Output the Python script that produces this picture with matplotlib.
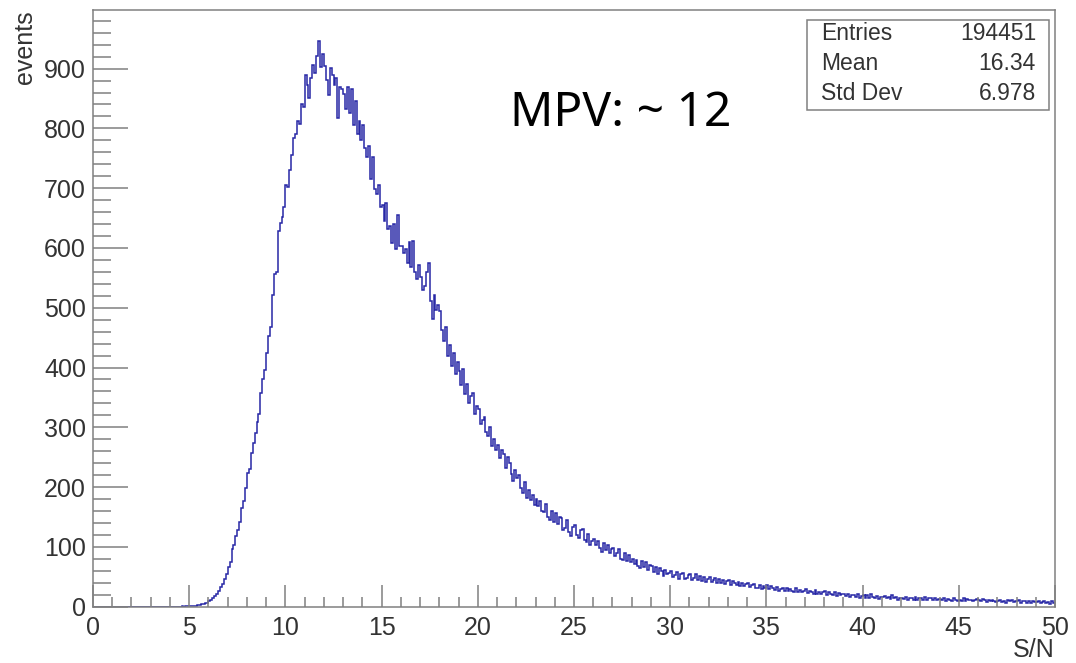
import numpy as np
import matplotlib
matplotlib.use("Agg")
import matplotlib.pyplot as plt
from matplotlib.ticker import MultipleLocator

# histogram of S/N, 0.1 wide bins from 0 to 50 (one row per unit)
counts = [
    0, 0, 0, 0, 0, 0, 0, 0, 0, 0,
    0, 0, 0, 0, 0, 0, 0, 0, 0, 0,
    0, 0, 0, 0, 0, 0, 0, 0, 0, 0,
    0, 0, 0, 0, 0, 0, 0, 0, 0, 0,
    0, 0, 0, 0, 0, 0, 1, 0, 1, 1,
    1, 1, 2, 1, 3, 3, 4, 5, 6, 7,
    9, 11, 14, 18, 21, 27, 33, 38, 46, 55,
    66, 74, 97, 104, 118, 128, 141, 165, 176, 199,
    224, 231, 257, 274, 290, 309, 322, 358, 381, 396,
    424, 452, 468, 521, 557, 560, 628, 641, 652, 668,
    705, 702, 731, 756, 784, 791, 812, 807, 840, 836,
    889, 872, 851, 884, 906, 893, 921, 946, 903, 925,
    905, 881, 855, 901, 889, 872, 884, 818, 870, 866,
    858, 832, 870, 825, 866, 805, 845, 790, 812, 780,
    806, 768, 752, 770, 715, 752, 698, 690, 705, 668,
    672, 645, 676, 632, 636, 608, 640, 598, 655, 604,
    604, 592, 598, 575, 610, 568, 612, 560, 548, 572,
    552, 530, 536, 560, 575, 512, 482, 522, 496, 505,
    494, 462, 445, 468, 420, 438, 402, 425, 390, 410,
    395, 370, 398, 355, 372, 340, 352, 358, 322, 335,
    330, 305, 312, 318, 292, 285, 300, 268, 280, 262,
    270, 248, 262, 255, 232, 250, 240, 222, 210, 228,
    215, 220, 198, 190, 208, 182, 195, 178, 186, 170,
    180, 168, 176, 160, 158, 172, 150, 145, 160, 142,
    156, 138, 150, 148, 128, 132, 145, 125, 118, 134,
    136, 120, 115, 128, 130, 112, 108, 122, 104, 110,
    114, 104, 110, 98, 92, 106, 94, 104, 90, 96,
    98, 84, 90, 96, 80, 78, 90, 76, 86, 74,
    80, 72, 78, 68, 64, 76, 66, 74, 62, 70,
    68, 58, 66, 55, 64, 60, 52, 62, 54, 57,
    60, 50, 53, 58, 47, 54, 56, 46, 48, 53,
    55, 45, 48, 54, 44, 52, 43, 50, 42, 47,
    50, 41, 44, 48, 40, 47, 39, 45, 38, 43,
    45, 37, 43, 39, 36, 42, 35, 40, 34, 38,
    40, 33, 36, 38, 32, 31, 36, 30, 35, 31,
    36, 29, 34, 31, 28, 33, 27, 30, 31, 26,
    32, 26, 30, 27, 25, 31, 24, 28, 24, 27,
    29, 23, 27, 25, 22, 28, 21, 24, 22, 25,
    26, 20, 24, 22, 19, 24, 18, 23, 19, 21,
    22, 18, 21, 16, 20, 19, 17, 21, 15, 18,
    20, 15, 19, 14, 22, 16, 14, 18, 13, 17,
    16, 18, 14, 17, 13, 19, 15, 16, 12, 15,
    15, 13, 17, 12, 15, 14, 12, 16, 11, 14,
    14, 12, 16, 11, 14, 15, 11, 14, 12, 13,
    13, 11, 15, 10, 13, 12, 10, 14, 12, 10,
    12, 10, 14, 9, 13, 11, 12, 9, 11, 13,
    11, 9, 13, 11, 8, 12, 10, 12, 9, 8,
    10, 12, 8, 10, 7, 11, 9, 11, 8, 10,
    9, 11, 7, 9, 10, 7, 9, 6, 10, 8,
    8, 10, 6, 8, 9, 6, 8, 5, 9, 7,
]
x_min, x_max = 0, 50
stat_names = ["Entries", "Mean", "Std Dev"]
stat_values = ["194451", "16.34", "6.978"]

edges = np.linspace(x_min, x_max, len(counts) + 1)

plt.rcParams['font.family'] = ['Liberation Sans', 'DejaVu Sans']
grey = '#808080'
txt = '#333333'

fig = plt.figure(figsize=(10.76, 6.63), dpi=100)
ax = fig.add_axes([93 / 1076, 56.3 / 663, 962 / 1076, 596.7 / 663])

ax.stairs(counts, edges, baseline=None, color='#2727a6', lw=1.1)

ax.set_xlim(x_min, x_max)
ax.set_ylim(0, 998)
ax.xaxis.set_major_locator(MultipleLocator(5))
ax.xaxis.set_minor_locator(MultipleLocator(1))
ax.yaxis.set_major_locator(MultipleLocator(100))
ax.yaxis.set_minor_locator(MultipleLocator(20))

ax.tick_params(axis='both', which='both', direction='in', colors=grey,
               labelcolor=txt, labelsize=18, width=1.1,
               top=False, right=False)
ax.tick_params(axis='y', which='major', length=25, pad=5)
ax.tick_params(axis='y', which='minor', length=13)
ax.tick_params(axis='x', which='major', length=16, pad=7)
ax.tick_params(axis='x', which='minor', length=7.5)
for s in ax.spines.values():
    s.set_color(grey)
    s.set_linewidth(1.1)

# axis titles placed ROOT style at the ends of the axes
fig.text(25 / 1076, 1 - 10 / 663, 'events', rotation=90, ha='center',
         va='top', fontsize=18, color=txt)
fig.text(1055 / 1076, 1 - 650 / 663, 'S/N', ha='right', va='center',
         fontsize=18, color=txt)

# stats box
box = plt.Rectangle((807 / 1076, 1 - 110 / 663), 242 / 1076, 90 / 663,
                    transform=fig.transFigure, facecolor='white',
                    edgecolor=grey, lw=1.1, zorder=5)
fig.add_artist(box)
for i, (n, v) in enumerate(zip(stat_names, stat_values)):
    yy = 1 - (34 + 30 * i) / 663
    fig.text(821 / 1076, yy, n, ha='left', va='center', fontsize=16.5,
             color=txt, zorder=6)
    fig.text(1036 / 1076, yy, v, ha='right', va='center', fontsize=16.5,
             color=txt, zorder=6)

fig.text(510 / 1076, 1 - 113 / 663, 'MPV: ~ 12', ha='left', va='center',
         fontsize=34.5, color='black', family=['Noto Sans', 'DejaVu Sans'])

fig.savefig('out.png', dpi=100, facecolor='white')
